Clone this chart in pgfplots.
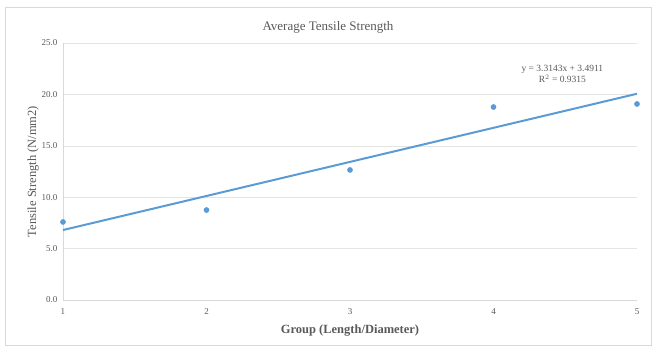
\documentclass[border=0pt]{standalone}
\usepackage{fontspec}
\setmainfont{Liberation Serif}
\usepackage{pgfplots}
\pgfplotsset{compat=1.18}
\definecolor{ser}{HTML}{5B9BD5}
\definecolor{txt}{HTML}{595959}
\definecolor{grd}{HTML}{D9D9D9}
\begin{document}
\begin{tikzpicture}
\path (0,0) rectangle (656pt,358pt);
\draw[grd] (5pt,13pt) rectangle (651pt,351pt);
\begin{axis}[
  at={(63pt,58pt)}, anchor=south west,
  scale only axis, width=574pt, height=257pt,
  xmin=1, xmax=5, ymin=0, ymax=25,
  xtick={1,2,3,4,5}, ytick={0,5,10,15,20,25},
  yticklabel style={xshift=-2pt, /pgf/number format/.cd,fixed,fixed zerofill,precision=1},
  /pgf/number format/assume math mode=true,
  ticklabel style={font=\fontsize{9}{10}\selectfont, text=txt},
  xticklabel style={yshift=-5pt},
  major tick length=0pt,
  axis x line*=bottom, axis y line*=left,
  axis line style={grd, line width=0.8pt},
  ymajorgrids, grid style={grd!70, line width=0.5pt},
  xmajorgrids=false,
  title={Average Tensile Strength},
  title style={font=\fontsize{13}{15}\selectfont, text=txt, at={(0.5,1)}, xshift=-22pt, yshift=0pt},
  xlabel={\textbf{Group (Length/Diameter)}},
  ylabel={Tensile Strength (N/mm2)},
  label style={font=\fontsize{12.5}{14}\selectfont, text=txt},
  xlabel style={yshift=-3pt},
  ylabel style={yshift=-4pt},
  clip=false,
]
\addplot[only marks, mark=*, mark size=2.6pt, color=ser] coordinates {
 (1,7.59) (2,8.75) (3,12.65) (4,18.77) (5,19.07)
};
\addplot[ser, line width=2pt] coordinates {(1,6.8054) (5,20.0626)};
\node[font=\fontsize{9.5}{11}\selectfont, text=txt, align=center] at (axis cs:4.48,21.95) {y = 3.3143x + 3.4911\\R$^2$ = 0.9315};
\end{axis}
\end{tikzpicture}
\end{document}
